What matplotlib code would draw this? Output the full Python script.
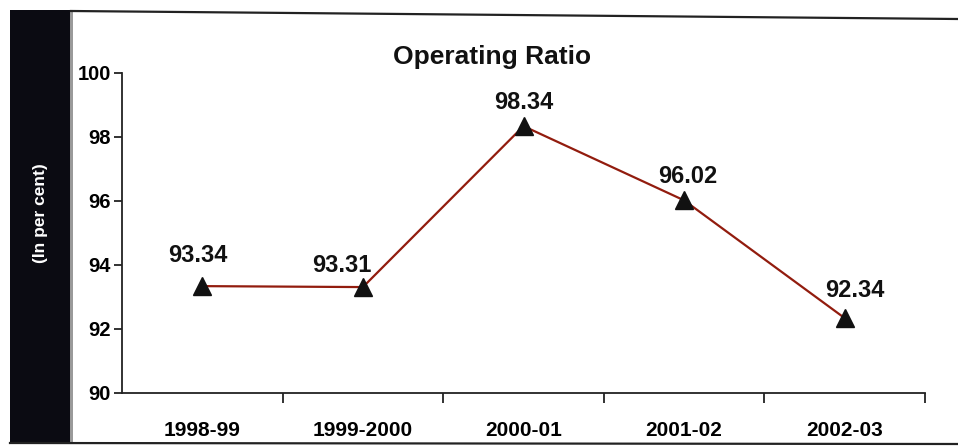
import matplotlib
matplotlib.use("Agg")
import matplotlib.pyplot as plt
from matplotlib.patches import Rectangle
from matplotlib.lines import Line2D

categories = ["1998-99", "1999-2000", "2000-01", "2001-02", "2002-03"]
values = [93.34, 93.31, 98.34, 96.02, 92.34]
labels = ["93.34", "93.31", "98.34", "96.02", "92.34"]
yticks = [90, 92, 94, 96, 98, 100]
title = "Operating Ratio"
ylabel = "(In per cent)"

# label offsets (pixels) relative to marker
label_dx = [-4, -21, 0, 4, 10]
label_dy = [31, 22, 24, 24, 28]

plt.rcParams['font.family'] = ['Liberation Sans', 'DejaVu Sans']
fig = plt.figure(figsize=(9.58, 4.47), dpi=100)
W, H = 958, 447

# black band on the left
fig.patches.append(Rectangle((10 / W, 1 - 442 / H), 61 / W, 432 / H,
                             transform=fig.transFigure, facecolor='#0b0b12',
                             edgecolor='none', zorder=0))
fig.patches.append(Rectangle((70 / W, 1 - 442 / H), 3 / W, 432 / H,
                             transform=fig.transFigure, facecolor='#9a9a9a',
                             edgecolor='none', zorder=0))
# frame lines
fig.lines.append(Line2D([71 / W, 1.0], [1 - 11 / H, 1 - 19 / H],
                        transform=fig.transFigure, color='#222222', lw=1.6))
fig.lines.append(Line2D([10 / W, 1.0], [1 - 443 / H, 1 - 444 / H],
                        transform=fig.transFigure, color='#222222', lw=1.6))
fig.text(40 / W, 1 - 213 / H, ylabel, rotation=90, color='white',
         fontsize=12.5, fontweight='bold', ha='center', va='center')

ax = fig.add_axes([122 / W, 1 - 393 / H, (925 - 122) / W, (393 - 73) / H])
x = list(range(len(categories)))
ax.plot(x, values, color='#921c0e', lw=1.6, zorder=2)
ax.plot(x, values, linestyle='none', marker='^', ms=13, color='#111111', zorder=3)

for xi, v, lab, dx, dy in zip(x, values, labels, label_dx, label_dy):
    ax.annotate(lab, (xi, v), xytext=(dx * 0.72, dy * 0.72), textcoords='offset points',
                ha='center', va='center', fontsize=17, fontweight='bold', color='#111111')

ax.set_xlim(-0.5, len(categories) - 0.5)
ax.set_ylim(90, 100)
ax.set_yticks(yticks)
ax.set_yticklabels([str(t) for t in yticks], fontsize=14.5, fontweight='bold')
ax.set_xticks([i + 0.5 for i in x])
ax.set_xticklabels([])
ax.set_xticks(x, minor=True)
ax.set_xticklabels(categories, minor=True, fontsize=15, fontweight='bold')
ax.tick_params(axis='x', which='major', length=7, width=1.3, direction='out', color='#222222')
ax.tick_params(axis='x', which='minor', length=0, pad=20)
ax.tick_params(axis='y', length=6, width=1.3, direction='out', pad=2, color='#222222')
for s in ['top', 'right']:
    ax.spines[s].set_visible(False)
for s in ['left', 'bottom']:
    ax.spines[s].set_linewidth(1.3)
    ax.spines[s].set_color('#222222')

fig.text(492 / W, 1 - 57 / H, title, ha='center', va='center',
         fontsize=19, fontweight='bold', color='#111111')

fig.savefig("out.png", dpi=100)
